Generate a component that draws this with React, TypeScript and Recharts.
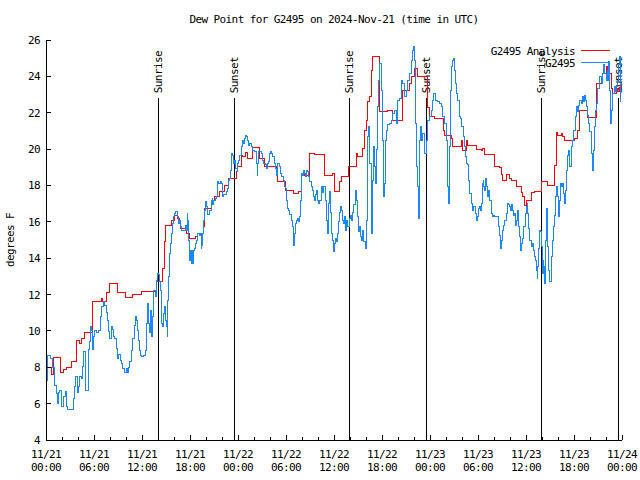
import React from 'react'
import { LineChart, Line, XAxis, YAxis, ReferenceLine } from 'recharts'

const FONT = '"DejaVu Sans Mono", "Liberation Mono", monospace'
const RED = '#ff0000'
const BLUE = '#1a86ff'

// hours since 2024-11-21 00:00 UTC, dew point in F
const analysisPoints: [number, number][] = [
  [0, 8.0], [0.63, 7.6], [0.96, 8.55], [1.79, 7.7], [2.13, 7.9], [2.5, 8.0], [3.13, 8.3],
  [3.75, 9.5], [4.16, 9.3], [4.38, 9.6], [4.79, 9.9], [5.84, 11.6], [6.88, 11.8], [7.09, 11.6],
  [7.5, 12.1], [7.91, 12.6], [8.96, 12.1], [9.88, 11.85], [10.84, 12.0], [11.88, 12.16],
  [13.75, 12.7], [14.59, 13.43], [14.79, 14.9], [14.91, 15.82], [15.71, 16.1], [16.04, 16.37],
  [16.46, 16.2], [16.66, 16.1], [16.79, 15.64], [17.5, 15.35], [17.91, 15.09], [18.66, 15.2],
  [18.88, 15.35], [19.71, 15.73], [19.79, 16.74], [20.71, 17.2], [21.04, 17.4], [21.66, 17.66],
  [22.29, 18.0], [22.79, 18.4], [23.75, 18.76], [23.96, 19.03], [24.38, 19.67], [24.59, 19.6],
  [24.88, 19.8], [25.13, 19.5], [25.84, 20.1], [26.66, 19.5], [27.29, 19.07], [28.75, 18.6],
  [28.96, 18.24], [29.91, 17.75], [30.96, 17.55], [31.5, 17.66], [31.88, 18.57], [32.25, 18.65],
  [32.5, 18.57], [32.91, 19.77], [33.5, 19.7], [34.79, 18.57], [35.84, 18.67], [36.04, 17.66],
  [36.66, 18.2], [36.88, 18.52], [37.75, 19.07], [38.75, 19.77], [38.96, 19.6], [39.59, 20.04],
  [39.79, 21.05], [40.0, 21.6], [40.21, 22.6], [40.41, 22.9], [40.63, 24.35], [40.84, 25.12],
  [41.66, 22.06], [42.71, 22.15], [43.34, 21.6], [44.59, 23.25], [45.38, 23.6], [45.63, 24.0],
  [46.04, 24.44], [46.46, 23.98], [47.71, 22.3], [47.88, 21.78], [48.54, 21.7], [49.71, 21.05],
  [49.79, 20.77], [50.63, 20.6], [50.84, 20.17], [51.88, 20.5], [52.09, 19.95], [52.5, 20.5],
  [52.71, 20.2], [53.75, 20.0], [54.38, 19.95], [54.59, 20.05], [54.79, 19.73], [56.04, 19.07],
  [56.66, 19.0], [56.88, 18.6], [57.09, 18.26], [57.5, 18.6], [57.91, 18.4], [58.13, 18.26],
  [58.75, 17.93], [59.38, 17.6], [59.59, 17.4], [59.79, 16.92], [60.0, 17.2], [60.63, 17.6],
  [61.04, 17.66], [61.88, 18.2], [62.71, 18.0], [63.54, 19.1], [63.75, 20.9], [63.96, 20.77],
  [64.38, 20.85], [64.59, 20.7], [64.79, 20.5], [66.04, 20.6], [66.46, 21.0], [66.66, 22.15],
  [67.71, 21.75], [68.75, 23.62], [69.59, 24.17], [70.0, 24.53], [70.21, 24.17], [70.63, 23.34],
  [70.84, 23.07], [71.25, 23.34], [71.46, 23.16], [71.66, 23.4], [71.88, 23.5],
]

const stationPoints: [number, number][] = [
  [0, 7.3], [0.21, 8.67], [0.5, 8.5], [0.84, 8.0], [1.04, 7.0], [1.25, 6.57], [1.38, 6.03],
  [1.54, 6.6], [1.66, 6.7], [1.88, 6.4], [1.96, 5.83], [2.21, 6.4], [2.38, 6.66], [2.5, 5.83],
  [2.71, 5.69], [3.34, 5.69], [3.46, 6.3], [3.54, 6.93], [3.66, 7.48], [3.88, 6.6], [4.04, 6.93],
  [4.21, 7.48], [4.38, 7.39], [4.59, 8.03], [4.71, 8.85], [4.88, 6.75], [5.21, 6.75], [5.29, 9.0],
  [5.41, 9.4], [5.54, 10.23], [5.71, 10.05], [5.84, 9.0], [5.96, 9.7], [6.04, 10.05], [6.25, 9.9],
  [6.54, 10.05], [6.79, 10.78], [6.96, 11.33], [7.13, 11.6], [7.29, 11.4], [7.5, 11.0], [7.71, 10.6],
  [7.84, 9.96], [7.91, 9.59], [8.13, 10.23], [8.34, 10.1], [8.46, 9.7], [8.54, 9.6], [8.75, 9.04],
  [8.96, 8.5], [9.09, 8.7], [9.25, 8.4], [9.38, 8.22], [9.59, 7.94], [9.79, 7.7], [10.0, 7.94],
  [10.13, 7.7], [10.29, 8.0], [10.41, 8.3], [10.63, 8.95], [10.84, 9.6], [11.04, 10.32],
  [11.16, 10.78], [11.25, 10.6], [11.38, 10.0], [11.54, 9.5], [11.66, 8.95], [11.79, 8.67],
  [11.96, 8.58], [12.21, 8.67], [12.38, 8.95], [12.5, 10.4], [12.63, 10.9], [12.71, 11.52],
  [12.79, 10.4], [12.91, 9.9], [13.04, 11.15], [13.13, 9.68], [13.25, 10.78], [13.38, 11.7],
  [13.46, 12.25], [13.63, 11.88], [13.75, 12.8], [13.88, 13.17], [14.04, 13.08], [14.16, 12.7],
  [14.25, 12.25], [14.38, 11.15], [14.46, 10.4], [14.59, 10.23], [14.71, 10.96], [14.79, 11.33],
  [14.91, 10.6], [15.04, 10.23], [15.13, 9.68], [15.21, 11.7], [15.34, 12.98], [15.46, 14.27],
  [15.54, 14.82], [15.63, 15.37], [15.75, 15.92], [15.88, 16.28], [16.04, 16.47], [16.21, 16.56],
  [16.38, 16.28], [16.54, 15.92], [16.66, 16.1], [16.79, 15.73], [16.96, 15.55], [17.21, 15.55],
  [17.38, 15.82], [17.5, 15.55], [17.63, 16.47], [17.71, 16.1], [17.84, 15.0], [17.91, 13.9],
  [18.04, 14.45], [18.13, 13.72], [18.25, 14.45], [18.38, 13.72], [18.46, 14.45], [18.54, 14.54],
  [18.66, 14.82], [18.79, 15.0], [18.96, 15.37], [19.16, 15.27], [19.29, 15.37], [19.38, 14.54],
  [19.46, 14.72], [19.59, 15.37], [19.71, 16.1], [19.79, 16.65], [19.91, 17.1], [20.0, 16.84],
  [20.13, 16.56], [20.21, 16.38], [20.41, 16.65], [20.63, 17.2], [20.75, 17.3], [20.84, 16.93],
  [20.96, 17.2], [21.13, 17.3], [21.25, 17.4], [21.38, 17.75], [21.46, 18.2], [21.59, 18.1],
  [21.75, 18.2], [21.88, 18.1], [22.0, 17.93], [22.09, 17.4], [22.21, 17.5], [22.38, 17.5],
  [22.5, 17.66], [22.63, 17.84], [22.79, 18.3], [22.91, 18.4], [23.04, 18.85], [23.13, 19.22],
  [23.21, 19.77], [23.34, 19.67], [23.41, 19.22], [23.54, 19.4], [23.66, 18.95], [23.88, 18.76],
  [23.96, 19.22], [24.09, 19.4], [24.21, 19.67], [24.38, 20.13], [24.5, 20.5], [24.63, 20.3],
  [24.79, 20.6], [24.91, 20.77], [25.04, 20.68], [25.21, 20.5], [25.34, 20.22], [25.46, 20.3],
  [25.63, 20.13], [25.84, 19.95], [26.04, 19.86], [26.25, 19.2], [26.38, 18.57], [26.46, 19.2],
  [26.59, 19.86], [26.79, 19.86], [26.96, 19.77], [27.09, 19.4], [27.21, 19.22], [27.38, 19.13],
  [27.5, 18.94], [27.63, 19.22], [27.79, 19.3], [27.91, 19.77], [28.04, 19.86], [28.16, 19.77],
  [28.34, 19.6], [28.54, 19.22], [28.66, 18.94], [28.79, 18.57], [28.96, 19.22], [29.13, 19.04],
  [29.29, 18.67], [29.46, 18.48], [29.63, 18.3], [29.79, 17.93], [29.91, 17.84], [30.04, 17.2],
  [30.21, 16.74], [30.34, 16.65], [30.46, 16.38], [30.63, 16.1], [30.75, 15.73], [30.88, 15.18],
  [30.96, 14.72], [31.09, 15.37], [31.21, 15.9], [31.34, 16.1], [31.46, 16.2], [31.59, 16.0],
  [31.71, 16.29], [31.79, 17.2], [31.88, 18.12], [31.96, 18.67], [32.09, 18.57], [32.21, 18.85],
  [32.29, 18.67], [32.41, 18.48], [32.54, 18.85], [32.71, 18.76], [32.84, 18.48], [32.96, 18.2],
  [33.13, 17.93], [33.25, 17.75], [33.38, 17.4], [33.54, 17.2], [33.66, 17.5], [33.79, 17.75],
  [33.96, 17.2], [34.09, 17.02], [34.21, 17.2], [34.38, 17.93], [34.59, 17.6], [34.71, 17.93],
  [34.88, 17.2], [35.0, 16.1], [35.13, 15.37], [35.29, 17.0], [35.41, 17.66], [35.54, 16.5],
  [35.63, 15.37], [35.75, 15.0], [35.88, 14.36], [36.04, 14.8], [36.16, 15.1], [36.29, 14.9],
  [36.46, 15.37], [36.59, 16.0], [36.71, 16.5], [36.79, 16.83], [36.96, 16.65], [37.09, 16.1],
  [37.21, 15.9], [37.29, 16.3], [37.41, 15.55], [37.54, 16.1], [37.71, 15.73], [37.88, 16.2],
  [38.04, 16.37], [38.21, 16.1], [38.34, 16.5], [38.46, 16.93], [38.63, 17.75], [38.75, 17.2],
  [38.88, 16.3], [39.04, 15.46], [39.16, 15.73], [39.29, 15.2], [39.46, 15.0], [39.59, 15.55],
  [39.71, 14.9], [39.88, 14.54], [40.0, 16.1], [40.13, 18.3], [40.21, 20.68], [40.34, 21.23],
  [40.46, 19.2], [40.63, 16.93], [40.71, 15.37], [40.84, 18.3], [40.96, 20.13], [41.04, 19.03],
  [41.16, 18.12], [41.25, 20.0], [41.38, 20.87], [41.46, 22.33], [41.59, 23.8], [41.71, 24.72],
  [41.88, 23.25], [42.0, 20.5], [42.13, 18.3], [42.21, 17.38], [42.29, 18.1], [42.41, 20.5],
  [42.54, 21.05], [42.71, 21.33], [42.91, 21.42], [43.13, 21.6], [43.34, 21.97], [43.54, 22.15],
  [43.75, 21.42], [43.96, 22.7], [44.16, 22.8], [44.38, 23.8], [44.59, 23.6], [44.79, 22.88],
  [45.0, 23.25], [45.21, 23.8], [45.41, 24.17], [45.63, 24.9], [45.84, 25.45], [45.96, 25.63],
  [46.04, 24.9], [46.16, 21.42], [46.25, 19.03], [46.38, 17.93], [46.59, 16.2], [46.66, 19.0],
  [46.71, 20.5], [46.79, 21.23], [46.91, 20.5], [47.09, 20.87], [47.25, 19.77], [47.41, 19.77],
  [47.59, 20.5], [47.71, 21.6], [47.91, 21.78], [48.13, 22.15], [48.34, 22.7], [48.46, 23.07],
  [48.66, 22.7], [48.96, 22.6], [49.16, 22.5], [49.38, 22.33], [49.59, 21.78], [49.79, 21.42],
  [50.0, 20.5], [50.21, 17.93], [50.29, 17.02], [50.41, 20.13], [50.54, 23.25], [50.63, 24.53],
  [50.75, 24.9], [50.96, 25.0], [51.04, 24.35], [51.16, 23.62], [51.29, 23.07], [51.46, 22.7],
  [51.66, 21.78], [51.79, 21.7], [51.96, 21.23], [52.13, 20.68], [52.29, 20.13], [52.41, 19.58],
  [52.54, 19.22], [52.71, 19.13], [52.84, 18.3], [52.96, 17.57], [53.13, 17.02], [53.34, 16.65],
  [53.46, 16.83], [53.63, 16.47], [53.75, 16.1], [53.88, 16.28], [54.04, 16.74], [54.16, 16.83],
  [54.29, 16.65], [54.38, 17.02], [54.5, 18.12], [54.63, 18.3], [54.71, 17.93], [54.79, 17.75],
  [54.91, 18.39], [55.04, 17.93], [55.21, 17.38], [55.34, 17.75], [55.46, 17.2], [55.63, 16.47],
  [55.75, 16.28], [55.88, 16.37], [56.04, 16.28], [56.38, 16.28], [56.54, 15.73], [56.66, 15.27],
  [56.79, 14.54], [56.88, 15.0], [57.0, 15.55], [57.13, 15.82], [57.29, 16.1], [57.5, 16.47],
  [57.63, 17.02], [57.79, 16.93], [57.91, 16.83], [58.04, 16.65], [58.21, 16.93], [58.34, 16.65],
  [58.46, 16.37], [58.54, 16.47], [58.66, 15.82], [58.79, 16.1], [58.96, 16.65], [59.09, 15.73],
  [59.21, 15.18], [59.29, 14.45], [59.46, 14.82], [59.59, 15.09], [59.71, 15.73], [59.88, 16.47],
  [60.0, 16.83], [60.13, 17.02], [60.21, 16.47], [60.34, 15.64], [60.46, 15.0], [60.63, 14.63],
  [60.75, 14.82], [60.88, 14.45], [61.04, 14.08], [61.16, 13.9], [61.29, 13.35], [61.38, 12.89],
  [61.46, 13.53], [61.54, 14.54], [61.66, 15.55], [61.79, 15.46], [61.88, 14.63], [62.0, 13.17],
  [62.13, 13.9], [62.21, 13.53], [62.29, 12.62], [62.41, 15.0], [62.54, 16.74], [62.63, 15.73],
  [62.71, 14.63], [62.84, 13.35], [62.96, 12.71], [63.13, 14.08], [63.25, 15.0], [63.38, 15.73],
  [63.54, 16.37], [63.66, 17.38], [63.79, 17.93], [63.88, 17.38], [64.04, 16.28], [64.16, 17.2],
  [64.29, 18.12], [64.38, 17.93], [64.5, 18.12], [64.63, 17.57], [64.79, 17.02], [64.91, 17.75],
  [65.04, 18.85], [65.21, 19.67], [65.34, 19.95], [65.46, 19.03], [65.63, 20.13], [65.75, 20.5],
  [65.88, 21.05], [66.04, 21.05], [66.16, 21.78], [66.29, 22.33], [66.46, 22.06], [66.59, 22.42],
  [66.71, 22.7], [66.88, 22.5], [67.0, 22.88], [67.13, 22.6], [67.29, 22.97], [67.41, 22.7],
  [67.54, 22.33], [67.71, 21.87], [67.84, 21.42], [67.96, 20.96], [68.13, 19.77], [68.25, 18.85],
  [68.38, 19.95], [68.54, 21.23], [68.66, 22.15], [68.79, 22.52], [68.96, 23.34], [69.16, 23.98],
  [69.38, 23.62], [69.59, 24.17], [69.71, 24.63], [69.84, 24.17], [70.0, 23.8], [70.13, 24.35],
  [70.21, 23.8], [70.34, 24.81], [70.46, 23.25], [70.59, 21.42], [70.71, 22.15], [70.84, 23.07],
  [70.96, 23.07], [71.04, 23.44], [71.16, 23.16], [71.29, 23.44], [71.46, 23.8], [71.59, 24.63],
  [71.71, 25.08], [71.79, 22.6],
]

const sunHours = [14.03, 23.55, 37.93, 47.53, 61.88, 71.5]
const sunLabels = ['Sunrise', 'Sunset', 'Sunrise', 'Sunset', 'Sunrise', 'Sunset']
const sunLineTop = 22.8

const xTickHours = [0, 6, 12, 18, 24, 30, 36, 42, 48, 54, 60, 66, 72]
const xTickDates = ['11/21', '11/21', '11/21', '11/21', '11/22', '11/22', '11/22', '11/22', '11/23', '11/23', '11/23', '11/23', '11/24']
const xTickTimes = ['00:00', '06:00', '12:00', '18:00', '00:00', '06:00', '12:00', '18:00', '00:00', '06:00', '12:00', '18:00', '00:00']
const xMinorHours = Array.from({ length: 37 }, (_, i) => i * 2)
const yTicks = [4, 6, 8, 10, 12, 14, 16, 18, 20, 22, 24, 26]

const analysisData = analysisPoints.map(([t, dew]) => ({ t, dew }))
const stationData = stationPoints.map(([t, dew]) => ({ t, dew }))

const txt = { fontFamily: FONT, fontSize: 11, letterSpacing: -0.6, fill: '#000' }

const BottomTick = (props: any) => {
  const { x, y, payload } = props
  const i = xTickHours.indexOf(payload.value)
  return (
    <g shapeRendering="crispEdges">
      <line x1={x} x2={x} y1={y} y2={y - (i >= 0 ? 5 : 3)} stroke="#000" />
      {i >= 0 && (
        <>
          <text x={x} y={y + 18} textAnchor="middle" {...txt}>{xTickDates[i]}</text>
          <text x={x} y={y + 31} textAnchor="middle" {...txt}>{xTickTimes[i]}</text>
        </>
      )}
    </g>
  )
}

const TopTick = (props: any) => {
  const { x, y, payload } = props
  const major = xTickHours.includes(payload.value)
  return <line x1={x} x2={x} y1={y} y2={y + (major ? 5 : 3)} stroke="#000" shapeRendering="crispEdges" />
}

const LeftTick = (props: any) => {
  const { x, y, payload } = props
  return (
    <g shapeRendering="crispEdges">
      <line x1={x} x2={x + 5} y1={y} y2={y} stroke="#000" />
      <text x={x - 6} y={y + 4} textAnchor="end" {...txt}>{payload.value}</text>
    </g>
  )
}

const RightTick = (props: any) => {
  const { x, y } = props
  return <line x1={x} x2={x - 5} y1={y} y2={y} stroke="#000" shapeRendering="crispEdges" />
}

const SunLabel = (props: any) => {
  const { viewBox, text } = props
  if (!viewBox) return null
  const x = viewBox.x + 4
  const y = viewBox.y - 5
  return (
    <text x={x} y={y} transform={`rotate(-90 ${x} ${y})`} textAnchor="start" {...txt}>
      {text}
    </text>
  )
}

export default function App() {
  return (
    <div style={{ position: 'absolute', left: 0, top: 0, width: 640, height: 480, background: '#fff' }}>
      <LineChart width={640} height={480} margin={{ top: 40, right: 18, bottom: 0, left: 0 }}>
        <XAxis
          dataKey="t"
          type="number"
          domain={[0, 72]}
          ticks={xMinorHours}
          interval={0}
          height={40}
          tickSize={0}
          tickMargin={0}
          tickLine={false}
          axisLine={{ stroke: '#000', shapeRendering: 'crispEdges' }}
          tick={<BottomTick />}
        />
        <XAxis
          xAxisId="top"
          orientation="top"
          dataKey="t"
          type="number"
          domain={[0, 72]}
          ticks={xMinorHours}
          interval={0}
          height={0}
          tickSize={0}
          tickMargin={0}
          tickLine={false}
          axisLine={{ stroke: '#000', shapeRendering: 'crispEdges' }}
          tick={<TopTick />}
        />
        <YAxis
          type="number"
          domain={[4, 26]}
          ticks={yTicks}
          interval={0}
          width={46}
          tickSize={0}
          tickMargin={0}
          tickLine={false}
          axisLine={{ stroke: '#000', shapeRendering: 'crispEdges' }}
          tick={<LeftTick />}
        />
        <YAxis
          yAxisId="right"
          orientation="right"
          type="number"
          domain={[4, 26]}
          ticks={yTicks}
          interval={0}
          width={0}
          tickSize={0}
          tickMargin={0}
          tickLine={false}
          axisLine={{ stroke: '#000', shapeRendering: 'crispEdges' }}
          tick={<RightTick />}
        />
        {sunHours.map((h, i) => (
          <ReferenceLine
            key={i}
            segment={[{ x: h, y: 4 }, { x: h, y: sunLineTop }]}
            stroke="#000"
            strokeWidth={1}
            shapeRendering="crispEdges"
            label={<SunLabel text={sunLabels[i]} />}
          />
        ))}
        <Line
          data={analysisData}
          dataKey="dew"
          type="stepAfter"
          stroke={RED}
          strokeWidth={1}
          shapeRendering="crispEdges"
          dot={false}
          isAnimationActive={false}
        />
        <Line
          data={stationData}
          dataKey="dew"
          type="stepAfter"
          stroke={BLUE}
          strokeWidth={1}
          shapeRendering="crispEdges"
          dot={false}
          isAnimationActive={false}
        />
      </LineChart>
      <svg width={640} height={480} style={{ position: 'absolute', left: 0, top: 0, pointerEvents: 'none' }}>
        <text x={334} y={23} textAnchor="middle" {...txt}>
          Dew Point for G2495 on 2024-Nov-21 (time in UTC)
        </text>
        <text x={14} y={240} transform="rotate(-90 14 240)" textAnchor="middle" {...txt}>
          degrees F
        </text>
        <text x={575} y={55} textAnchor="end" {...txt}>G2495 Analysis</text>
        <line x1={581} x2={610} y1={50.5} y2={50.5} stroke={RED} />
        <text x={575} y={67} textAnchor="end" {...txt}>G2495</text>
        <line x1={581} x2={610} y1={62.5} y2={62.5} stroke={BLUE} />
      </svg>
    </div>
  )
}
